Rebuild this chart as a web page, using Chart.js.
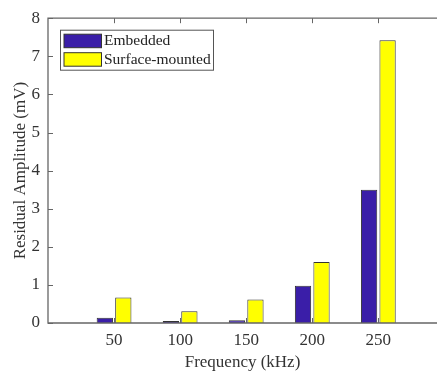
<!DOCTYPE html>
<html>
<head>
<meta charset="utf-8">
<script src="https://cdn.jsdelivr.net/npm/chart.js@4/dist/chart.umd.min.js"></script>
<style>
  html, body { margin: 0; padding: 0; background: #fff; overflow: hidden; }
  canvas { display: block; }
</style>
</head>
<body>
<canvas id="chart" width="437" height="374"></canvas>
<script>
// Residual amplitude per excitation frequency
const frequencies = [50, 100, 150, 200, 250];          // kHz
const embedded = [0.14, 0.05, 0.07, 0.98, 3.50];        // mV
const surfaceMounted = [0.67, 0.31, 0.62, 1.60, 7.42];  // mV
const yTicks = [0, 1, 2, 3, 4, 5, 6, 7, 8];
const seriesNames = ['Embedded', 'Surface-mounted'];
const seriesColors = ['#3a1ea8', '#ffff00'];

const toPoints = vals => frequencies.map((f, i) => ({ x: f, y: vals[i] }));

const axisColor = '#666';
const textColor = '#333';
const serif = "'Liberation Serif', 'Times New Roman', serif";

// Box axes with inward tick marks, plus the boxed legend in the upper-left corner
const framePlugin = {
  id: 'frame',
  afterDatasetsDraw(chart) {
    const { ctx, chartArea: a, scales: { x, y } } = chart;
    ctx.save();
    ctx.strokeStyle = axisColor;
    ctx.lineWidth = 1.3;
    ctx.beginPath();
    ctx.moveTo(a.right, a.top);
    ctx.lineTo(a.left, a.top);
    ctx.lineTo(a.left, a.bottom);
    ctx.lineTo(a.right, a.bottom);
    ctx.stroke();

    const len = 5;
    ctx.lineWidth = 1;
    ctx.beginPath();
    frequencies.forEach(f => {
      const px = Math.round(x.getPixelForValue(f)) + 0.5;
      ctx.moveTo(px, a.bottom); ctx.lineTo(px, a.bottom - len);
      ctx.moveTo(px, a.top); ctx.lineTo(px, a.top + len);
    });
    yTicks.forEach(v => {
      const py = Math.round(y.getPixelForValue(v)) + 0.5;
      ctx.moveTo(a.left, py); ctx.lineTo(a.left + len, py);
    });
    ctx.stroke();

    // legend
    const bx = a.left + 12.5, by = a.top + 12, bw = 153, bh = 40;
    ctx.fillStyle = '#fff';
    ctx.fillRect(bx, by, bw, bh);
    ctx.strokeStyle = '#555';
    ctx.lineWidth = 1;
    ctx.strokeRect(bx, by, bw, bh);
    ctx.font = "15.5px " + serif;
    ctx.textBaseline = 'middle';
    ctx.textAlign = 'left';
    chart.data.datasets.forEach((ds, i) => {
      const sy = by + 4 + i * 18.5;
      ctx.fillStyle = ds.backgroundColor;
      ctx.fillRect(bx + 3.5, sy, 37.5, 13.5);
      ctx.strokeStyle = '#333';
      ctx.strokeRect(bx + 3.5, sy, 37.5, 13.5);
      ctx.fillStyle = '#222';
      ctx.fillText(ds.label, bx + 43.5, sy + 7);
    });
    ctx.restore();
  }
};

new Chart(document.getElementById('chart'), {
  type: 'bar',
  data: {
    datasets: [
      { label: seriesNames[0], data: toPoints(embedded), backgroundColor: seriesColors[0] },
      { label: seriesNames[1], data: toPoints(surfaceMounted), backgroundColor: seriesColors[1] }
    ]
  },
  options: {
    responsive: false,
    devicePixelRatio: 1,
    animation: false,
    layout: { padding: { top: 14.5, right: 0, bottom: 0, left: 0 } },
    datasets: {
      bar: {
        borderColor: '#333',
        borderWidth: 1,
        categoryPercentage: 0.56,
        barPercentage: 0.88
      }
    },
    plugins: {
      legend: { display: false },
      tooltip: { enabled: false }
    },
    scales: {
      x: {
        type: 'linear',
        min: 0,
        max: 294.4,
        offset: false,
        afterBuildTicks: s => { s.ticks = frequencies.map(v => ({ value: v })); },
        afterFit: s => { s.height = 51; },
        grid: { display: false, drawTicks: false, offset: false },
        border: { display: false },
        ticks: { color: textColor, font: { family: serif, size: 17 }, padding: 7.5, maxRotation: 0 },
        title: { display: true, text: 'Frequency (kHz)', color: textColor, font: { family: serif, size: 17 }, padding: { top: 0, bottom: 1.5 } }
      },
      y: {
        min: 0,
        max: 8,
        afterBuildTicks: s => { s.ticks = yTicks.map(v => ({ value: v })); },
        afterFit: s => { s.width = 48; },
        grid: { display: false, drawTicks: false },
        border: { display: false },
        ticks: { color: textColor, font: { family: serif, size: 17 }, padding: 8 },
        title: { display: true, text: 'Residual Amplitude (mV)', color: textColor, font: { family: serif, size: 17 }, padding: { top: 10, bottom: 0 } }
      }
    }
  },
  plugins: [framePlugin]
});
</script>
</body>
</html>
